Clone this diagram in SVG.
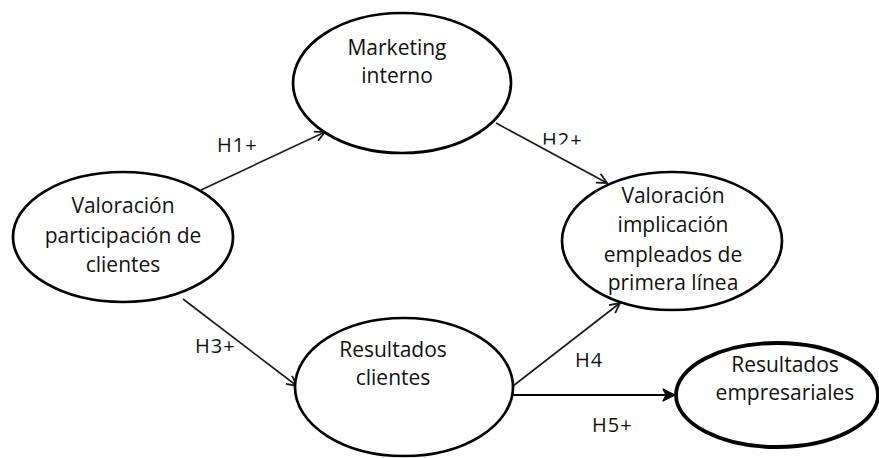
<svg xmlns="http://www.w3.org/2000/svg" width="879" height="458" viewBox="0 0 879 458">
  <style>
    .node ellipse { fill: #ffffff; stroke: #000000; stroke-width: 2.7; }
    .node.thick ellipse { stroke-width: 3.8; }
    .node text, .label { font-family: "Open Sans", "Liberation Sans", sans-serif; font-size: 21px; fill: #111111; text-anchor: middle; }
    .label { font-size: 20px; text-anchor: start; letter-spacing: 1px; }
    .edge { stroke: #1a1a1a; stroke-width: 1.6; fill: none; }
    .edge.bold { stroke: #000000; stroke-width: 2.2; }
  </style>
  <defs>
    <marker id="arrow" viewBox="0 0 12 12" refX="11" refY="6" markerWidth="12" markerHeight="12" markerUnits="userSpaceOnUse" orient="auto">
      <path d="M1,1 L11,6 L1,11" fill="none" stroke="#1a1a1a" stroke-width="1.8"/>
    </marker>
    <marker id="arrowBold" viewBox="0 0 14 14" refX="13" refY="7" markerWidth="14" markerHeight="14" markerUnits="userSpaceOnUse" orient="auto">
      <path d="M1,1 L13,7 L1,13 L4,7 z" fill="#000000" stroke="#000000" stroke-width="1.2" stroke-linejoin="round"/>
    </marker>
    <!-- the H2+ label is cut along its lower edge -->
    <clipPath id="clipH2">
      <rect x="530" y="120" width="70" height="24.5"/>
    </clipPath>
  </defs>

  <rect x="0" y="0" width="879" height="458" fill="#ffffff"/>

  <!-- connectors -->
  <g id="connectors">
    <line class="edge" x1="201" y1="190" x2="325" y2="132" marker-end="url(#arrow)"/>
    <line class="edge" x1="496" y1="123" x2="607" y2="183" marker-end="url(#arrow)"/>
    <line class="edge" x1="183" y1="299" x2="297" y2="386" marker-end="url(#arrow)"/>
    <line class="edge" x1="513" y1="386" x2="620" y2="303" marker-end="url(#arrow)"/>
    <line class="edge bold" x1="513" y1="395" x2="675" y2="395" marker-end="url(#arrowBold)"/>

    <text class="label" x="217" y="152">H1+</text>
    <text class="label" x="542" y="147" clip-path="url(#clipH2)">H2+</text>
    <text class="label" x="195" y="353">H3+</text>
    <text class="label" x="575" y="367">H4</text>
    <text class="label" x="592" y="432">H5+</text>
  </g>

  <!-- nodes -->
  <g id="marketing-interno" class="node">
    <ellipse cx="402" cy="83" rx="109" ry="70"/>
    <text x="397" y="55">Marketing</text>
    <text x="397" y="83">interno</text>
  </g>

  <g id="valoracion-participacion" class="node">
    <ellipse cx="123" cy="237" rx="110" ry="65"/>
    <text x="123" y="213">Valoración</text>
    <text x="123" y="243">participación de</text>
    <text x="123" y="272">clientes</text>
  </g>

  <g id="valoracion-implicacion" class="node">
    <ellipse cx="672" cy="241" rx="110" ry="69"/>
    <text x="673" y="203">Valoración</text>
    <text x="673" y="232">implicación</text>
    <text x="673" y="262">empleados de</text>
    <text x="673" y="290">primera línea</text>
  </g>

  <g id="resultados-clientes" class="node">
    <ellipse cx="404" cy="387" rx="109" ry="69"/>
    <text x="393" y="357">Resultados</text>
    <text x="393" y="385">clientes</text>
  </g>

  <g id="resultados-empresariales" class="node thick">
    <ellipse cx="777" cy="395" rx="101" ry="52"/>
    <text x="785" y="372">Resultados</text>
    <text x="785" y="400">empresariales</text>
  </g>
</svg>
